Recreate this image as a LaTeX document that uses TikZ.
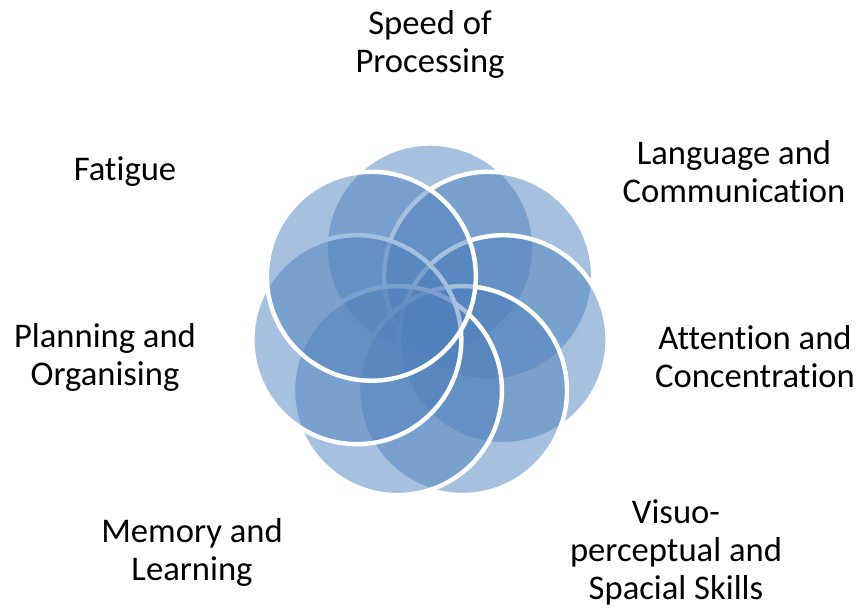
\documentclass[tikz,border=0pt]{standalone}
\usepackage{fontspec}
\setmainfont{Carlito}[Ligatures=NoCommon]
\usetikzlibrary{calc}
\definecolor{ringblue}{RGB}{79,129,189}

\begin{document}
\begin{tikzpicture}[x=0.02cm, y=0.02cm,
  ring/.style={circle, minimum size=4.18cm, inner sep=0pt, fill=ringblue,
    fill opacity=0.5, draw=white, draw opacity=1, line width=2.5pt},
  lbl/.style={align=center, font=\fontsize{19.7}{21.6}\selectfont}]
  \useasboundingbox (0,0) rectangle (857,609);
  \coordinate (c) at (430,286);
  \foreach \name [count=\i] in {speed, language, attention, visuo, memory, planning, fatigue}
    \node[ring] (\name) at ($(c)+({90-(\i-1)*360/7}:75)$) {};
  \node[lbl] (speedtxt) at (430,565) {Speed of\\Processing};
  \node[lbl] (languagetxt) at (734,437) {Language and\\Communication};
  \node[lbl] (attentiontxt) at (755,252) {Attention and\\Concentration};
  \node[lbl] (visuotxt) at (676,57) {Visuo-\\perceptual and\\Spacial Skills};
  \node[lbl] (memorytxt) at (192,57) {Memory and\\Learning};
  \node[lbl] (planningtxt) at (105,252) {Planning and\\Organising};
  \node[lbl] (fatiguetxt) at (125,437) {Fatigue};
\end{tikzpicture}
\end{document}
